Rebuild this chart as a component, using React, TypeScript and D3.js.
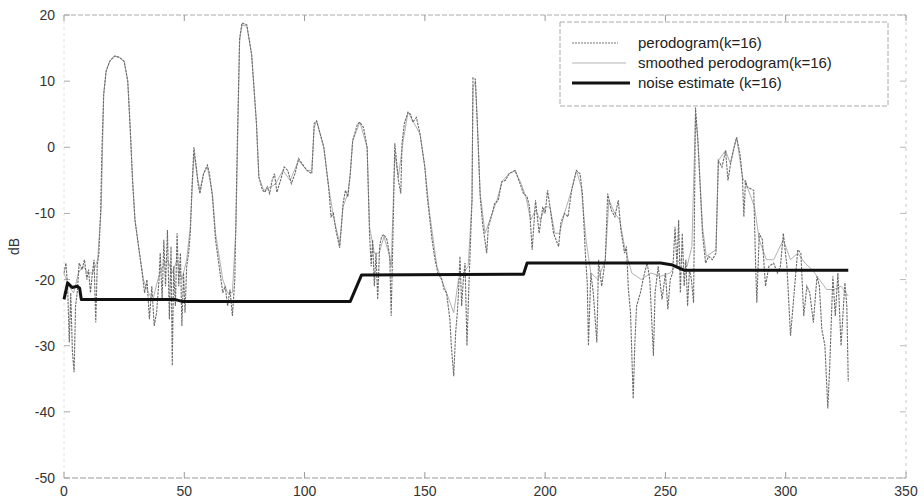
import React from "react";
import * as d3 from "d3";

const xTicks = [0, 50, 100, 150, 200, 250, 300, 350];
const yTicks = [20, 10, 0, -10, -20, -30, -40, -50];
const legendLabels = ["perodogram(k=16)", "smoothed perodogram(k=16)", "noise estimate (k=16)"];
const yLabel = "dB";

const periodogramX = [
  0, 0.8, 1.5, 2.2, 2.8, 3.5, 4.2, 4.8, 5.5, 6.3, 7.5, 8.5, 9.5, 10.2, 11, 11.8, 12.5, 13.2, 13.8, 14.5,
  15.2, 15.8, 16.5, 17.5, 19, 21, 23, 25, 26.5, 27.5, 28.5, 29.5, 31, 32.5, 33.5, 34.5, 35.5, 36.5, 37.5, 38.5,
  39.5, 40, 40.8, 41.5, 42.2, 43, 43.8, 44.5, 45, 45.6, 46.3, 47, 47.7, 48.4, 49, 49.7, 50.3, 51, 51.8, 52.5,
  53.2, 54, 55, 55.7, 56.5, 58, 59.6, 60.5, 61.7, 63, 64.5, 66, 67, 68, 69, 70, 71, 72, 73, 74,
  76, 78, 80, 81, 82.5, 83.5, 84.5, 85.5, 86.5, 87.5, 88.5, 90, 91.5, 93, 94.5, 96, 97.5, 99, 101, 103,
  104, 105, 106.5, 108, 110, 111, 112, 113, 114.6, 115.3, 116, 117, 118, 119, 120, 122, 123, 124.5, 126, 127,
  127.7, 128.3, 129, 129.7, 130.4, 131.2, 132, 133, 134.3, 135.4, 136, 137, 137.5, 139, 140, 140.5, 141.5, 143, 144, 145,
  146.5, 148, 150, 151, 153, 154, 155.4, 157, 158, 159, 160.4, 161, 162, 162.8, 163.5, 164, 164.6, 165.3, 166, 166.7,
  167.5, 168.3, 169, 169.6, 170, 171, 172, 173, 174, 175.7, 176.4, 178, 179, 180.5, 182, 183.5, 185, 187.5, 189.6, 191,
  192.5, 193.5, 194.6, 196, 197.5, 199, 200, 201, 202, 203.5, 205.6, 206.5, 208, 209.5, 211, 213, 214.5, 215.5, 216.7, 217.5,
  218, 219, 220, 220.8, 221.5, 222.2, 223.5, 225, 226, 227.5, 229, 230.4, 231.5, 233, 233.8, 234.6, 235.5, 236.6, 237.3, 238,
  239.6, 241, 242.4, 243.5, 245, 245.7, 247, 248.6, 250, 251, 252, 253, 254, 254.8, 255.5, 256.2, 257, 257.8, 258.5, 259.2,
  260, 260.8, 261.7, 262.5, 263.5, 265.4, 266.7, 268, 269.5, 271, 272, 273.5, 275, 276, 277.3, 278.5, 279.6, 281, 282, 282.6,
  283.3, 284, 286.7, 287.5, 288, 289, 290.3, 291.6, 293, 295, 296.5, 297.8, 299, 300.5, 302, 303.5, 305, 306.3, 307.5, 308.8,
  310, 311.5, 313, 314, 315, 316.3, 317.5, 318.3, 319.6, 320.6, 321.7, 323, 324.6, 325.4, 326
];
const periodogramY = [
  -19, -17.5, -21, -29.5, -22, -31, -34, -24, -22, -17.5, -18.5, -17, -20, -18.5, -22, -19, -17, -26.5, -18, -16,
  -10, 0, 8, 11.5, 13, 13.8, 13.6, 13, 10, 3, -5, -11, -15, -19, -22, -20, -26, -21, -27, -25,
  -20, -16, -23, -14, -21, -12.5, -26, -15, -33, -18, -24, -13, -21, -16, -27, -19, -25, -18, -16, -13,
  -6, 0, -3, -5.5, -7, -4, -2.7, -4, -7.5, -14, -18, -22, -21, -24, -21.5, -25.5, -20, 0, 16.5, 18.8,
  18.5, 14, 3.6, -4.5, -6.5, -6.8, -6, -7, -5, -4, -6.8, -5, -3, -3.5, -5.5, -4, -1.7, -2.5, -3.5, -4,
  3.6, 4, 2, 0, -6, -10.5, -10, -12.5, -15.2, -12, -8.5, -6.5, -7.5, -4, 1, 3.5, 3.8, 3, 0, -13,
  -18, -14, -21, -16, -23, -15, -13.5, -13.2, -14, -16.5, -25.5, -9, 0.6, -5, -7, 0.6, 3.6, 5.3, 5, 3.8,
  4.5, 2, -3, -7.5, -14, -16.5, -19, -20, -21.5, -22, -26, -30, -34.6, -28, -25, -22, -16.5, -24, -20, -17.5,
  -30, -21, -14, -8, 10.5, 10.3, 2, -7.5, -11.5, -16, -12, -10, -8.5, -8, -5.2, -5, -4, -3.5, -5.5, -7,
  -7.5, -9, -15.5, -8, -13, -9, -10, -6.5, -9, -13, -15, -11.5, -10, -10.5, -6.5, -3.5, -4, -7, -16, -20.5,
  -30, -19, -22, -26, -29.5, -17, -21, -17, -7, -9.5, -10.5, -8, -12.5, -16, -15, -21.5, -25, -38, -29.5, -24,
  -22, -19.5, -17.5, -20, -31.5, -22, -18, -23, -19, -24.5, -20, -19, -12, -18, -11, -22, -13, -21, -17, -24,
  -18.5, -20, -23.5, 6, 1, -13, -17.5, -16.5, -17, -16, -2, -3, -0.5, -5, -2, 0, 1.5, -1, -4.5, -10.5,
  -5, -6, -6.5, -18, -23.5, -13, -14, -21, -18, -17.5, -19, -18, -13, -18, -28.5, -22, -15.5, -16, -25.5, -21,
  -22, -26.5, -19.5, -21, -27.5, -30, -39.5, -33, -19.5, -25.5, -19, -30, -20.5, -24, -35.5
];

const smoothedX = [
  0, 2, 4, 6, 8, 10, 12, 14, 15.5, 16.5, 17.5, 19, 21, 23, 25, 26.5, 27.5, 28.5, 29.5, 31,
  33, 35, 37, 39, 41, 43, 45, 47, 49, 51, 52.5, 54, 55.7, 56.5, 58, 59.6, 61.7, 63, 66, 68,
  70, 71.5, 73, 74, 76, 78, 80, 81, 83, 86, 88, 91, 94, 97.5, 101, 103, 104, 105, 106.5, 108,
  110, 112, 114.6, 116, 118, 119, 120, 123, 126, 127, 129, 131, 133, 135, 136, 137.5, 139, 141, 143, 145,
  148, 150, 152, 155, 158, 160, 162, 164, 166, 168, 169.6, 170, 171, 172, 173, 175, 178, 180, 182, 185,
  187.5, 190, 192, 194, 196, 198, 200, 202, 204, 206, 208, 211, 213, 215, 217, 219, 222, 225, 226.5, 229,
  231, 233, 236, 240, 244, 248, 252, 256, 259, 261, 262.5, 263.5, 265.4, 267, 271, 272, 275, 277, 279.6, 282,
  284, 287, 289, 292, 295, 299, 302, 305, 308, 311, 314, 317, 320, 323, 326
];
const smoothedY = [
  -19, -21, -22, -19, -18, -19, -19, -17, -9, 8, 11.5, 13, 13.8, 13.6, 13, 10, 3, -5, -11, -15,
  -20, -22, -23, -20, -18, -17, -19, -17, -20, -17, -12, -1, -5, -6.5, -4, -3, -7, -13, -20, -22,
  -22, -12, 16, 18.5, 18.3, 14, 3.6, -4.5, -6.5, -6, -5.5, -3.5, -5, -2, -3.5, -3.5, 3, 4, 2, 0,
  -6, -10.5, -14.5, -9, -7, -4, 1, 3.8, 0, -12, -16, -16, -13.5, -16, -18, -1, -4.5, 1, 5.3, 4,
  2, -3, -10, -18, -21, -23, -25, -20, -19, -18, -8, 9, 10, 2, -7, -13, -10, -8, -5.2, -4,
  -3.5, -5.5, -7.5, -11, -9.5, -11, -9, -9, -13, -13, -10, -6.5, -3.5, -6, -14, -19, -20, -17, -8, -10,
  -11, -15, -19, -20, -19, -19.5, -19, -17, -18, -15, 5, 1, -12, -16.5, -15.5, -2, -0.5, -2.5, 1.5, -4.5,
  -6, -9, -14, -17, -17, -14, -17, -16, -17.5, -18.5, -20, -21.5, -21.5, -21, -22.5
];

const noiseX = [0, 1.5, 3.4, 5.5, 6.5, 7.2, 46, 49, 119, 123.7, 191, 192.5, 248, 253, 256, 258, 326];
const noiseY = [-23, -20.5, -21.2, -21, -21.3, -23, -23, -23.3, -23.3, -19.3, -19.2, -17.5, -17.5, -17.8, -18.3, -18.6, -18.6];

const zip = (xs: number[], ys: number[]): [number, number][] => xs.map((v, i) => [v, ys[i]]);

export default function App() {
  const W = 924;
  const H = 499;
  const x = d3.scaleLinear().domain([0, 350]).range([64, 906]);
  const y = d3.scaleLinear().domain([-50, 20]).range([478, 15]);
  const line = d3
    .line<[number, number]>()
    .x((d) => x(d[0]))
    .y((d) => y(d[1]));

  const per = zip(periodogramX, periodogramY);
  const smo = zip(smoothedX, smoothedY);
  const noi = zip(noiseX, noiseY);

  const font = "'Liberation Sans', Arial, sans-serif";
  const x0 = x(0), x1 = x(350), yTop = y(20), yBot = y(-50);

  const legX = 560, legY = 22, legW = 328, legH = 84;
  const rowY = [43, 63, 83];

  return (
    <svg
      width={W}
      height={H}
      style={{ position: "fixed", left: 0, top: 0, background: "#fff" }}
      fontFamily={font}
    >
      <rect x={0} y={0} width={W} height={H} fill="#fff" />
      {/* frame */}
      <line x1={x0} x2={x1} y1={yTop} y2={yTop} stroke="#aaa" strokeDasharray="5 2" />
      <line x1={x0} x2={x1} y1={yBot} y2={yBot} stroke="#999" strokeDasharray="6 2" />
      <line x1={x0} x2={x0} y1={yTop} y2={yBot} stroke="#e2e2e2" strokeDasharray="3 3" />
      <line x1={x1} x2={x1} y1={yTop} y2={yBot} stroke="#c8c8c8" strokeDasharray="3 4" />
      {/* ticks */}
      {xTicks.map((t) => (
        <g key={"xt" + t}>
          <line x1={x(t)} x2={x(t)} y1={yBot} y2={yBot - 6} stroke="#999" />
          <line x1={x(t)} x2={x(t)} y1={yTop} y2={yTop + 6} stroke="#999" />
          <text x={x(t)} y={496} textAnchor="middle" fontSize={14} fill="#333">
            {t}
          </text>
        </g>
      ))}
      {yTicks.map((t) => (
        <g key={"yt" + t}>
          <line x1={x0} x2={x0 + 6} y1={y(t)} y2={y(t)} stroke="#aaa" />
          <line x1={x1} x2={x1 - 6} y1={y(t)} y2={y(t)} stroke="#bbb" />
          <text x={55} y={y(t) + 5} textAnchor="end" fontSize={14} fill="#333">
            {t}
          </text>
        </g>
      ))}
      <text
        transform={`translate(19,${y(-15)}) rotate(-90)`}
        textAnchor="middle"
        fontSize={14}
        fill="#333"
      >
        {yLabel}
      </text>
      {/* series */}
      <path d={line(smo) || ""} fill="none" stroke="#a8a8a8" strokeWidth={0.9} />
      <path
        d={line(per) || ""}
        fill="none"
        stroke="#6a6a6a"
        strokeWidth={1.1}
        strokeDasharray="2.5 1"
      />
      <path d={line(noi) || ""} fill="none" stroke="#111" strokeWidth={3} strokeLinejoin="round" />
      {/* legend */}
      <rect x={legX} y={legY} width={legW} height={legH} fill="#fff" stroke="#aaa" strokeDasharray="5 2" />
      <line x1={572} x2={618} y1={rowY[0]} y2={rowY[0]} stroke="#777" strokeWidth={1.1} strokeDasharray="2 1" />
      <line x1={572} x2={626} y1={rowY[1]} y2={rowY[1]} stroke="#aaa" strokeWidth={0.9} />
      <line x1={572} x2={630} y1={rowY[2]} y2={rowY[2]} stroke="#111" strokeWidth={3} />
      {legendLabels.map((l, i) => (
        <text key={l} x={638} y={rowY[i] + 5} fontSize={15} fill="#222">
          {l}
        </text>
      ))}
    </svg>
  );
}
